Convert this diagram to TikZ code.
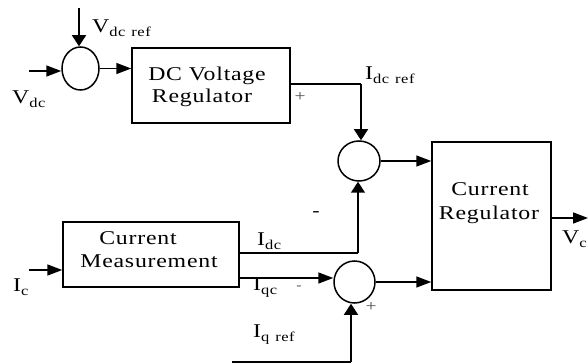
\documentclass[tikz,border=0pt]{standalone}
\usepackage{fontspec}
\setmainfont[FakeStretch=1.22,LetterSpace=4]{Liberation Serif}
\usetikzlibrary{arrows.meta,shapes.geometric}
\newcommand\sbt[1]{\raisebox{-4pt}{\fontsize{13.5}{13.5}\selectfont #1}}
\tikzset{
  wire/.style={line width=1.5pt},
  harr/.style={wire,-{Triangle[length=15pt,width=11pt]}},
  varr/.style={wire,-{Triangle[length=11pt,width=14pt]}},
  blk/.style={draw,line width=1.5pt,inner sep=0pt},
  sumj/.style={draw,ellipse,line width=1.5pt,inner sep=0pt},
  lbl/.style={font=\fontsize{19.5}{19.5}\selectfont,inner sep=0pt,anchor=base west},
  btxt/.style={font=\fontsize{19.5}{19.5}\selectfont,inner sep=0pt,anchor=base},
  sgn/.style={font=\fontsize{16}{16}\selectfont,inner sep=0pt,text=black!70},
}
\begin{document}
\begin{tikzpicture}[x=1pt,y=-1pt]
\useasboundingbox (0,0) rectangle (588,363);
% blocks
\node[blk,minimum width=158pt,minimum height=75pt] (dcv) at (211,85.5) {};
\node[blk,minimum width=119pt,minimum height=148pt] (cr) at (491.5,216) {};
\node[blk,minimum width=176pt,minimum height=65pt] (cm) at (151,254.5) {};
% summing junctions
\node[sumj,minimum width=37pt,minimum height=43pt] (s1) at (80.5,68.5) {};
\node[sumj,minimum width=42pt,minimum height=40pt] (s2) at (359,161) {};
\node[sumj,minimum width=41pt,minimum height=42pt] (s3) at (354.5,282) {};
% block texts
\node[btxt] (t1) at (207,81) {DC Voltage};
\node[btxt] (t2) at (202,103) {Regulator};
\node[btxt] (t3) at (490,196) {Current};
\node[btxt] (t4) at (489,219) {Regulator};
\node[btxt] (t5) at (138,244) {Current};
\node[btxt] (t6) at (149,267) {Measurement};
% coordinates
\coordinate (vref) at (79,8);
\coordinate (vdc) at (29,71);
\coordinate (ic) at (29,270);
\coordinate (c1) at (361,84);
\coordinate (c2) at (358,253);
\coordinate (iq0) at (232,362);
\coordinate (c3) at (351,362);
\coordinate (vc) at (588,218);
% connectors
\draw[varr] (vref) -- (vref |- s1.north);
\draw[harr] (vdc) -- (vdc -| s1.west);
\draw[harr] (s1.east) -- (s1.east -| dcv.west);
\draw[wire] (dcv.east |- c1) -- (c1);
\draw[varr] (c1) -- (c1 |- s2.north);
\draw[harr] (s2.east) -- (s2.east -| cr.west);
\draw[wire] (cm.east |- c2) -- (c2);
\draw[varr] (c2) -- (c2 |- s2.south);
\draw[harr] (cm.east |- 0,278) -- (s3.west |- 0,278);
\draw[harr] (s3.east) -- (s3.east -| cr.west);
\draw[wire] (iq0) -- (c3);
\draw[varr] (c3) -- (c3 |- s3.south);
\draw[harr] (ic) -- (ic -| cm.west);
\draw[harr] (cr.east |- vc) -- (vc);
% labels
\node[lbl] (l1) at (92,33) {V\sbt{dc\hspace{6pt}ref}};
\node[lbl] (l2) at (12,104) {V\sbt{dc}};
\node[lbl] (l3) at (365,80) {I\sbt{dc\hspace{6pt}ref}};
\node[lbl] (l4) at (562,243) {V\sbt{c}};
\node[lbl] (l5) at (257,245) {I\sbt{dc}};
\node[lbl] (l6) at (253,290) {I\sbt{qc}};
\node[lbl] (l7) at (253,337) {I\sbt{q\hspace{6pt}ref}};
\node[lbl] (l8) at (13,291) {I\sbt{c}};
\node[sgn] (p1) at (300,97) {+};
\node[sgn] (p2) at (371,307) {+};
\node[font=\fontsize{18}{18}\selectfont,inner sep=0pt] (m1) at (316,214) {-};
\node[font=\fontsize{13}{13}\selectfont,inner sep=0pt,text=black!70] (m2) at (299,288) {-};
\end{tikzpicture}
\end{document}
